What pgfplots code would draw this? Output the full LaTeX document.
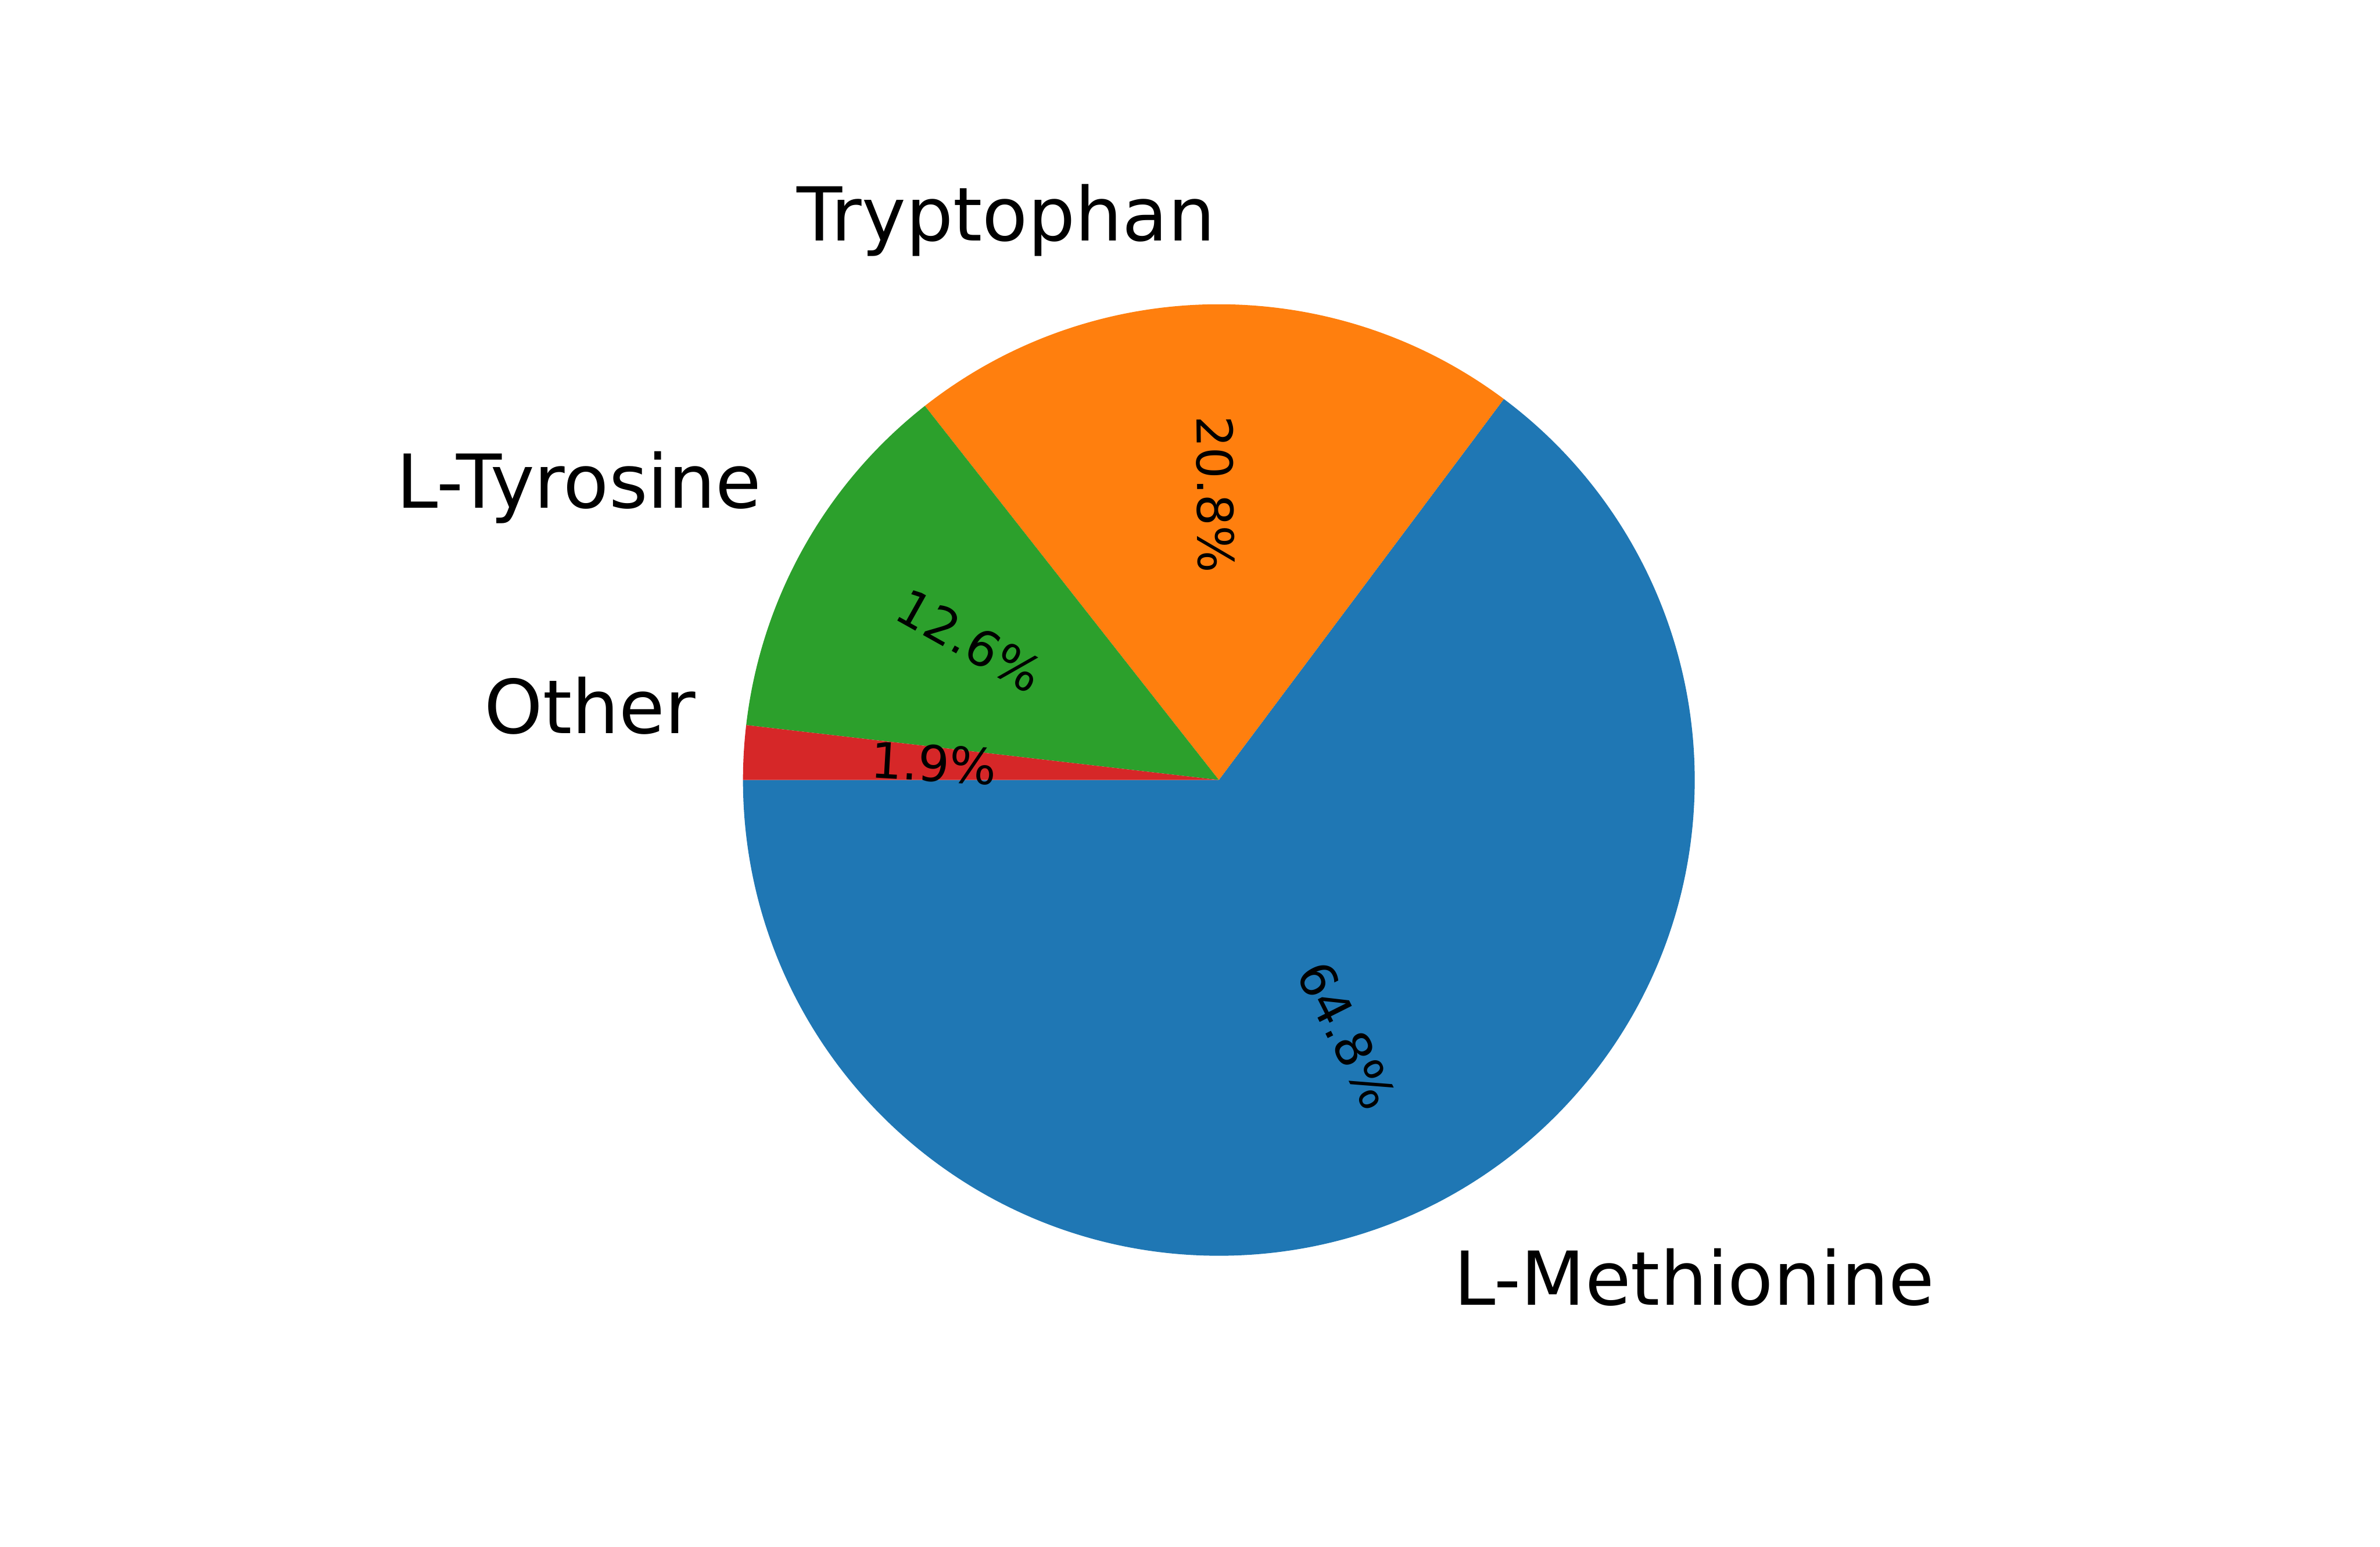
\documentclass[border=0pt]{standalone}
\usepackage{pgfplots}
\pgfplotsset{compat=1.18}
\usepackage{fontspec}
\setmainfont{DejaVu Sans}
\definecolor{c0}{HTML}{1F77B4}
\definecolor{c1}{HTML}{FF7F0E}
\definecolor{c2}{HTML}{2CA02C}
\definecolor{c3}{HTML}{D62728}
\begin{document}
\begin{tikzpicture}
% shares (percent)
\def\vA{64.78}\def\vB{20.82}\def\vC{12.56}\def\vD{1.84}
\pgfmathsetmacro\tot{\vA+\vB+\vC+\vD}
\pgfmathsetmacro\aO{180}
\pgfmathsetmacro\aA{\aO+\vA/\tot*360}
\pgfmathsetmacro\aB{\aA+\vB/\tot*360}
\pgfmathsetmacro\aC{\aB+\vC/\tot*360}
\pgfmathsetmacro\aD{\aC+\vD/\tot*360}
\pgfmathsetmacro\mA{(\aO+\aA)/2}
\pgfmathsetmacro\mB{(\aA+\aB)/2}
\pgfmathsetmacro\mC{(\aB+\aC)/2}
\pgfmathsetmacro\mD{(\aC+\aD)/2}
\def\R{144.5pt}
\def\RP{86.7pt}
\def\RL{158.95pt}
\begin{axis}[width=722.7pt, height=469.755pt, scale only axis,
  xmin=0, xmax=1568, ymin=0, ymax=1019.2, hide axis, clip=false]
\path (rel axis cs:0,0) (rel axis cs:1,1);
\fill[c0] (axis cs:803,505.2) -- ++(\aO:\R) arc[start angle=\aO, end angle=\aA, radius=\R] -- cycle;
\fill[c1] (axis cs:803,505.2) -- ++(\aA:\R) arc[start angle=\aA, end angle=\aB, radius=\R] -- cycle;
\fill[c2] (axis cs:803,505.2) -- ++(\aB:\R) arc[start angle=\aB, end angle=\aC, radius=\R] -- cycle;
\fill[c3] (axis cs:803,505.2) -- ++(\aC:\R) arc[start angle=\aC, end angle=\aD, radius=\R] -- cycle;
% percentage labels
\path (axis cs:803,505.2) ++(\mA:\RP) node[inner sep=0, rotate=\mA, font=\fontsize{15}{18}\selectfont]{64.8\%};
\path (axis cs:803,505.2) ++(\mB:\RP) node[inner sep=0, rotate=\mB+180, font=\fontsize{15}{18}\selectfont]{20.8\%};
\path (axis cs:803,505.2) ++(\mC:\RP) node[inner sep=0, rotate=\mC+180, font=\fontsize{15}{18}\selectfont]{12.6\%};
\path (axis cs:803,505.2) ++(\mD:\RP) node[inner sep=0, rotate=\mD+180, font=\fontsize{15}{18}\selectfont]{1.9\%};
% category labels
\path (axis cs:803,505.2) ++(\mA:\RL) node[inner sep=0, anchor=north west, font=\fontsize{22.6}{27}\selectfont]{L-Methionine\vphantom{p}};
\path (axis cs:805,505.2) ++(\mB:\RL) node[inner sep=0, anchor=south east, font=\fontsize{22.6}{27}\selectfont]{Tryptophan};
\path (axis cs:803,505.2) ++(\mC:\RL) node[inner sep=0, anchor=south east, font=\fontsize{22.6}{27}\selectfont]{L-Tyrosine};
\path (axis cs:803,505.2) ++(\mD:\RL) node[inner sep=0, anchor=south east, font=\fontsize{22.6}{27}\selectfont]{Other\vphantom{p}};
\end{axis}
\end{tikzpicture}
\end{document}
